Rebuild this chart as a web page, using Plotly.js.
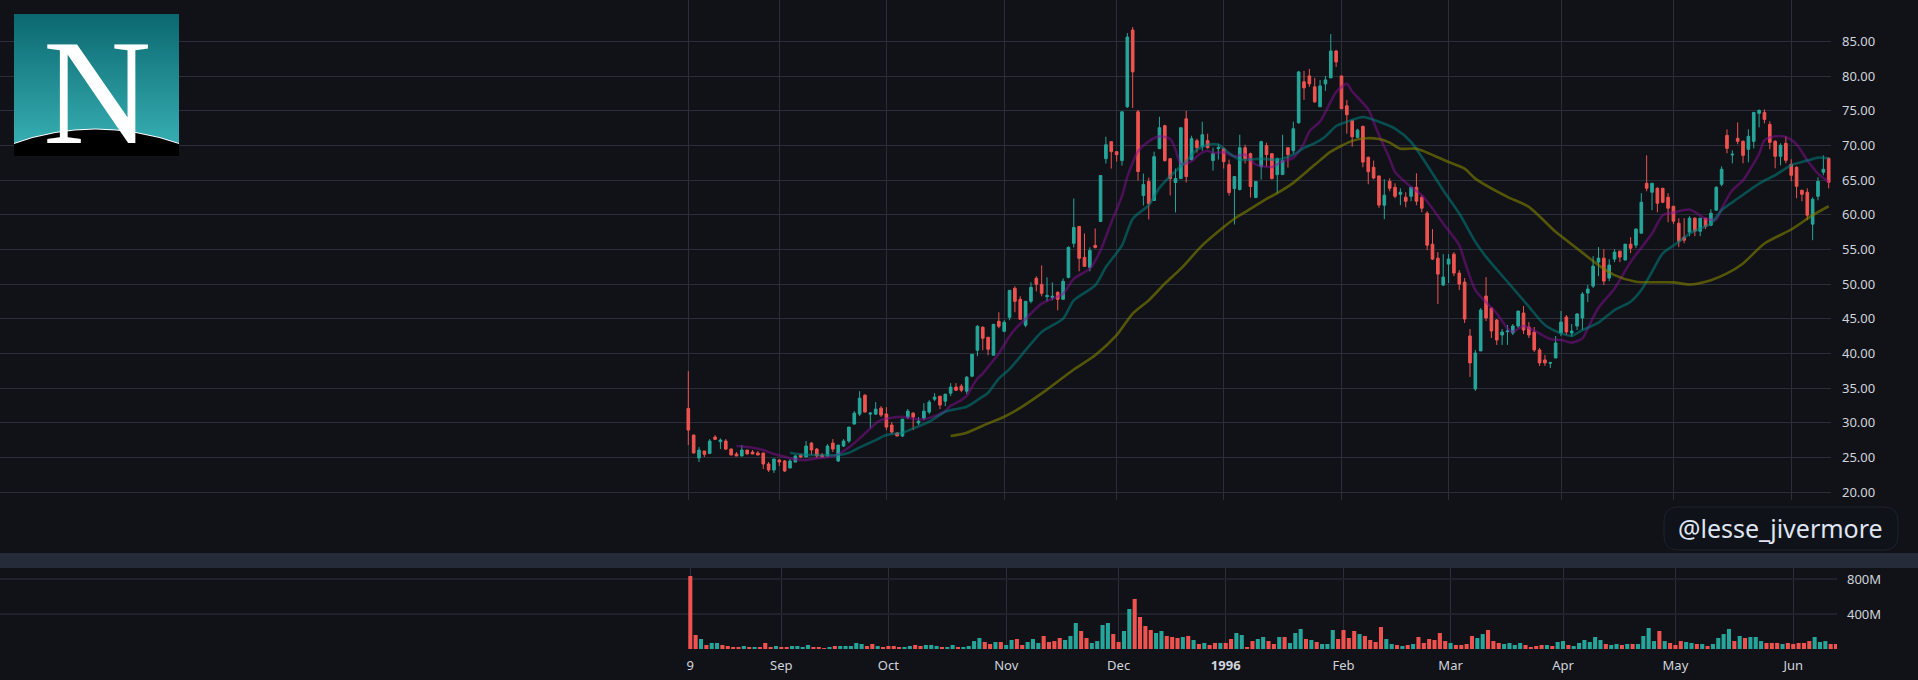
<!DOCTYPE html>
<html>
<head>
<meta charset="utf-8">
<script src="https://cdn.plot.ly/plotly-3.0.1.min.js"></script>
<style>html,body{margin:0;padding:0;background:#101217;overflow:hidden}#chart{width:1918px;height:680px}</style>
</head>
<body>
<div id="chart"></div>
<script>
// Trading sessions by month
const aug95=[9,10,11,14,15,16,17,18,21,22,23,24,25,28,29,30,31];
const sep95=[1,5,6,7,8,11,12,13,14,15,18,19,20,21,22,25,26,27,28,29];
const oct95=[2,3,4,5,6,9,10,11,12,13,16,17,18,19,20,23,24,25,26,27,30,31];
const nov95=[1,2,3,6,7,8,9,10,13,14,15,16,17,20,21,22,24,27,28,29,30];
const dec95=[1,4,5,6,7,8,11,12,13,14,15,18,19,20,21,22,26,27,28,29];
const jan96=[2,3,4,5,8,9,10,11,12,15,16,17,18,19,22,23,24,25,26,29,30,31];
const feb96=[1,2,5,6,7,8,9,12,13,14,15,16,20,21,22,23,26,27,28,29];
const mar96=[1,4,5,6,7,8,11,12,13,14,15,18,19,20,21,22,25,26,27,28,29];
const apr96=[1,2,3,4,8,9,10,11,12,15,16,17,18,19,22,23,24,25,26,29,30];
const may96=[1,2,3,6,7,8,9,10,13,14,15,16,17,20,21,22,23,24,28,29,30,31];
const jun96=[3,4,5,6,7,10,11,12,13];
const pad=n=>String(n).padStart(2,'0');
const days=(ym,list)=>list.map(d=>ym+'-'+pad(d));
const sessions=[].concat(days('1995-08',aug95),days('1995-09',sep95),days('1995-10',oct95),days('1995-11',nov95),days('1995-12',dec95),days('1996-01',jan96),days('1996-02',feb96),days('1996-03',mar96),days('1996-04',apr96),days('1996-05',may96),days('1996-06',jun96));

const openPrices=[32.09,28.25,24.94,25.95,25.61,27.96,27.29,27.39,26.23,25.52,
25.23,26.09,25.8,25.66,25.66,24.08,23.21,24.65,24.51,23.5,
24.36,25.37,25.08,27.1,26.23,25.37,25.23,27.1,24.51,26.67,
27.39,29.83,31.27,34.0,31.27,31.27,32.13,31.27,29.69,28.54,
28.11,30.84,31.41,29.98,30.7,31.56,33.43,33.86,33.14,34.29,
35.16,35.3,34.58,36.74,40.48,43.79,42.35,39.76,44.65,43.21,
45.23,49.4,47.82,44.08,47.53,50.84,49.98,48.2,48.1,48.82,
47.82,50.98,55.88,58.32,53.86,52.42,55.59,59.04,68.09,70.54,
69.1,67.81,75.57,86.63,74.85,62.78,64.79,62.06,69.53,72.84,
68.09,64.65,65.22,73.84,67.95,70.68,69.82,70.68,67.81,69.53,
69.53,67.23,63.78,63.64,69.67,68.81,62.49,66.94,69.96,68.81,
65.79,65.79,69.67,69.24,73.27,79.16,80.02,78.44,75.57,78.87,
79.73,83.61,80.02,75.71,73.55,71.16,72.75,68.29,66.85,65.6,
61.38,64.83,63.97,62.96,62.53,62.67,63.97,62.53,60.23,55.77,
53.75,49.87,52.89,54.33,51.6,50.3,42.53,34.9,40.37,48.29,
46.56,44.83,42.67,43.15,42.96,43.97,45.84,43.82,43.11,40.52,
39.08,38.6,39.36,42.96,45.26,42.96,43.97,45.12,48.72,49.72,
53.18,53.75,50.88,53.61,54.76,53.47,55.77,55.62,57.35,64.54,
63.25,63.82,63.82,62.53,61.23,58.79,56.77,57.49,59.51,57.64,
59.51,58.5,60.66,64.4,71.45,68.62,71.02,70.59,69.44,70.59,
74.62,74.76,73.03,70.59,68.43,70.3,67.28,66.85,63.54,63.25,
58.65,62.67,66.13,68.14];
const highPrices=[37.46,28.3,26.52,25.95,27.67,28.25,27.77,27.67,26.33,25.8,
26.81,26.09,26.09,25.95,25.66,24.36,24.8,24.8,24.65,24.8,
25.37,25.52,27.39,27.24,26.38,25.66,26.95,27.67,26.81,27.67,
29.4,31.7,34.58,34.15,31.56,33,32.42,32.28,30.12,28.68,
30.55,32,31.56,30.84,32.85,33.29,34.29,33.86,34.15,35.73,
35.73,35.59,36.74,39.9,44.08,43.93,42.35,44.22,45.95,44.8,
49.11,49.69,48.25,47.53,50.26,51.13,52.71,50.98,50.26,48.97,
50.84,55.44,62.35,58.32,57.31,55.3,58.03,65.65,71.25,70.54,
69.1,74.85,86.2,87.06,75.13,65.94,65.36,69.1,74.13,72.98,
68.09,66.66,72.55,74.99,71.4,70.97,73.41,71.69,69.67,70.25,
69.67,67.95,65.51,71.54,70.1,68.96,64.79,70.68,70.39,68.81,
68.24,71.54,69.67,73.41,80.74,80.74,81.03,79.73,79.44,80.02,
86.05,83.76,80.02,76.57,73.7,72.4,72.84,68.38,67.81,65.65,
65.12,65.26,64.54,63.82,63.25,63.97,65.98,62.82,60.52,57.93,
54.62,54.33,54.33,54.62,52.03,50.88,43.54,40.52,46.56,51.02,
46.56,44.98,43.54,44.11,44.26,46.13,46.85,44.54,43.82,40.8,
39.8,38.8,42.53,46.13,45.55,44.26,45.84,48.86,49.87,54.04,
55.34,55.05,53.61,55.05,54.76,55.77,56.77,58.07,63.11,68.57,
64.54,63.97,63.82,63.11,61.23,59.51,59.51,59.8,59.65,59.51,
59.51,60.8,64.11,66.99,72.31,69.29,73.32,70.73,72.31,74.76,
75.19,75.19,73.47,70.73,70.3,71.31,68,66.99,63.54,63.82,
62.53,65.41,68.57,68.29];
const lowPrices=[26.81,25.6,24.36,25.08,25.52,27.53,26.23,26.09,25.37,25.23,
25.2,25.52,25.52,25.37,23.36,22.93,22.78,23.79,22.93,23.5,
24.36,24.94,25.08,25.37,24.94,25.08,25.08,25.8,24.36,26.52,
27.1,29.83,30.98,31.56,29.26,31.13,30.84,28.97,28.39,28.11,
27.96,30.55,28.97,29.69,30.41,31.27,33.14,31.99,32.42,33.86,
34.58,34.44,34.15,36.6,39.62,40.48,39.76,39.76,43.65,43.07,
44.8,45.95,44.94,43.79,47.24,48.97,48.25,47.53,47.67,46.24,
47.82,50.84,55.3,51.85,52.57,51.85,55.15,59,67.38,66.66,
67.66,67.09,75.4,75.4,64.93,61.34,59.33,62.06,69.53,67.66,
62.78,60.34,65.22,64.65,67.81,68.96,69.24,69.53,66.37,67.95,
66.66,62.78,58.6,63.5,67.38,62.49,62.4,65.08,66.94,65.08,
63.07,65.79,66.8,68.81,73.12,76.57,78.44,76.14,75.57,77.86,
79.73,81.31,75.28,71.69,69.82,71.1,66.85,64.4,65.12,61,
59.36,63.39,62.39,61.38,61.09,61.95,61.38,60.37,54.9,53.47,
47.13,49.72,50.16,51.16,49.15,44.4,36.63,34.62,40.37,44.69,
42.24,41.24,41.24,41.24,42.67,43.68,42.82,42.24,40.23,38.21,
38.21,37.93,39.36,42.53,42.67,42.39,43.39,43.39,47.42,49.44,
51.16,49.87,50.44,53.18,53.18,53.47,54.47,55.19,57.35,63.39,
60.66,60.37,61.67,58.93,58.65,55.34,55.91,56.92,56.92,56.92,
57.93,58.36,60.66,64.11,68.86,67.42,70.16,67.42,67.57,69.58,
72.6,73.18,69.44,66.7,67.13,67.42,64.83,62.39,61.95,59.22,
56.34,62.1,65.7,63.82];
const closePrices=[28.97,25.66,26.09,25.47,27.39,27.63,27.53,26.23,25.37,25.23,
26.09,25.52,25.52,25.37,24.08,23.21,24.8,24.36,23.07,24.51,
25.23,25.08,26.67,26.09,25.23,25.08,26.67,26.23,26.81,27.39,
29.4,31.41,33.57,31.56,31.41,31.99,31.13,29.4,28.68,28.11,
30.55,31.7,30.84,30.26,31.7,33,33.72,32.57,34.15,35.16,
34.72,34.72,36.6,39.9,43.93,42.21,40.62,44.22,43.93,44.51,
49.11,47.53,44.94,47.53,49.54,49.98,48.68,48.35,48.25,47.82,
50.41,55.3,58.18,53.72,52.57,54.87,55.3,65.65,70.1,69.1,
68.67,74.85,85.62,80.6,66.23,64.36,61.63,68.38,72.55,67.81,
65.22,65.22,72.55,65.51,70.97,69.67,71.54,69.67,68.81,69.67,
67.66,63.21,65.51,69.67,68.09,64.07,64.79,70.54,68.67,65.22,
68.09,67.81,68.67,72.4,80.59,78.3,78.87,76.28,78.58,79.44,
83.61,82.03,75.28,74.42,71.25,72.2,67.6,66.2,65.3,61.4,
62.82,63.82,62.67,63.25,61.95,63.97,61.95,60.95,55.62,53.61,
51.45,51.02,53.61,51.6,50.01,44.98,38.65,40.08,46.27,45.12,
43.25,41.95,43.11,43.25,43.97,46.13,43.39,42.67,40.52,38.65,
38.65,38.7,41.52,44.54,43.11,43.25,45.7,48.57,49.29,52.6,
53.75,50.44,52.75,54.62,53.9,55.77,55.19,57.93,61.81,63.82,
64.54,61.67,61.81,60.95,59.08,56.2,56.34,59.51,57.64,59.51,
58.36,60.23,63.97,66.56,69.58,68.72,70.59,68.57,71.31,74.76,
75.05,73.75,70.44,68.43,70.01,67.85,65.7,64.11,62.96,59.94,
62.24,64.83,66.56,64.69];

// Volume in millions, one per session
const volumeM=[834,160,114,46,69,69,46,34,23,23,34,23,23,23,69,23,34,23,23,34,34,23,46,23,23,11,23,34,34,34,34,69,57,34,57,34,23,34,34,23,23,34,46,34,46,46,34,23,23,46,23,23,34,91,126,80,57,80,80,46,103,114,46,80,114,69,149,80,91,126,103,149,
297,206,126,69,91,274,297,171,80,206,457,572,366,263,217,183,206,149,137,126,137,149,103,57,69,46,69,69,69,114,183,160,23,91,114,137,91,57,137,137,69,183,229,114,103,80,57,57,217,114,217,126,206,171,149,103,80,251,114,57,46,34,46,57,137,69,114,103,183,91,69,46,
46,57,149,126,171,217,91,69,57,69,46,69,46,23,34,46,46,34,80,91,46,34,69,103,80,137,103,57,46,57,46,57,57,57,149,240,91,206,91,69,46,91,80,69,57,57,34,57,126,171,229,91,149,126,137,137,91,69,69,69,57,69,57,69,69,91,137,80,91,57,57];
const volumeDirection=('RRGRGGRRRR'+'GRGRRRGRRG'+'GGGRRRGRGG'+'GGGRRGRRRR'+'GGRRGGGRGG'+'RGGGGRRGRG'+'GRRGGGRRRR'+'GGGRRGGGGR'+'RGGRRRRGGR'+'RRGRGRGRRG'+'RRGGRRGGRR'+'GRGGGRGRGG'+'GRRRRGRRRR'+'GGRGRGRRRR'+'RRGRRRRGGR'+'RRGGGGRRRR'+'GRGGRGGGGG'+'GRGGRGRGGG'+'GRGRRRGGRG'+'RGGGGRGRGG'+'GRRRGRRRRR'+'GGGRR').split('');

// Moving averages at the listed session numbers
const ma10At=[9,12,14,16,18,20,22,24,26,28,29,30,32,34,35,36,38,40,42,44,46,48,49,51,52,53,54,55,56,57,58,60,61,63,66,70,72,75,77,79,81,82,83,84,86,88,90,91,92,94,95,96,97,98,100,102,104,106,109,111,113,115,116,118,120,121,123,124,127,128,129,131,132,135,137,139,141,144,145,147,149,151,153,154,156,158,161,163,165,167,168,170,173,176,180,182,184,187,190,192,193,195,197,200,201,203,205,207,209,211,213];
const ma10Values=[26.67,26.43,26.09,25.52,25.13,24.75,24.65,24.89,25.04,25.47,25.95,26.47,27.77,29.2,29.93,30.4,30.74,30.89,30.6,30.5,30.98,31.7,32.47,33.29,33.9,35.2,36.4,37.12,38.08,39.04,40,42.5,43.5,45,47.19,48.63,50.79,52.23,54.87,58.9,62.68,65.5,67.5,69.15,70.58,71.3,70.92,69.39,67.33,67.71,68.43,69,69.24,68.9,69,68.43,68.67,67.23,66.9,67.71,68.2,70.34,72.02,73.46,76.33,77.7,78.87,77.77,75.2,73.4,71.5,68.09,66.17,64,62.82,60.9,58.74,55.62,53.3,49.15,47.4,45.79,43.63,43.15,43.97,43.3,42.1,41.95,41.57,42.19,43.63,46.6,49.39,53.2,57.3,59.94,60.32,60.76,59.46,59.32,60.9,63.54,64.98,68.8,70.73,71.31,71.21,70.16,67.86,65.94,64.74];
const ma20At=[19,21,24,28,30,32,35,37,40,42,45,48,50,52,54,56,58,60,63,66,70,72,76,78,81,83,86,88,90,93,95,97,99,101,103,107,110,113,115,117,119,121,123,126,129,132,135,137,139,141,144,147,149,153,157,160,163,165,167,170,173,176,178,180,182,185,187,191,193,196,200,203,206,209,211,213];
const ma20Values=[25.71,25.47,25.37,25.37,25.71,26.47,27.53,28.25,28.59,29.21,30.17,31.61,31.99,32.33,33.29,34.34,36.4,37.75,40.48,43.12,45.04,47.67,49.83,52.47,55.59,59.4,61.4,63.88,65.56,67.71,69.39,70.1,70.1,68.91,67.95,68.09,67.95,68.67,69.63,70.34,71.3,72.8,73.4,74.1,73.4,72.41,70.49,68.33,65.94,63.54,60.18,56.1,53.94,50.35,46.75,44.11,42.91,42.58,43.39,44.45,46.27,47.47,49.15,51.79,54.43,56.1,57.3,58.74,60.66,62.34,64.5,65.7,67.14,67.81,68.24,68.14];
const ma50At=[49,52,56,59,62,67,72,76,80,83,86,89,92,96,100,102,104,108,110,113,117,120,124,126,129,131,133,136,142,145,147,153,157,162,166,170,173,177,184,187,191,194,197,201,206,210,213];
const ma50Values=[28.11,28.59,29.93,30.89,32.18,34.8,37.7,39.76,42.64,45.76,47.67,50.07,52.23,55.59,58.23,59.43,60.38,62.3,63.12,64.6,67.2,69.1,70.65,71,70.92,70.4,69.53,69.53,67.61,66.66,65.22,62.58,61.14,57.54,55.14,52.75,51.31,50.35,50.26,49.96,50.58,51.55,52.99,55.86,57.88,59.94,61.23];

const priceTicks=[20,25,30,35,40,45,50,55,60,65,70,75,80,85];
const priceTickLabels=priceTicks.map(v=>v.toFixed(2));
const volumeTicks=[400,800];
const volumeTickLabels=['400M','800M'];
const timeTicks=['1995-08-09','1995-09-01','1995-10-02','1995-11-01','1995-12-01','1996-01-02','1996-02-01','1996-03-01','1996-04-01','1996-05-01','1996-06-03'];
const timeTickLabels=['9','Sep','Oct','Nov','Dec','<b>1996</b>','Feb','Mar','Apr','May','Jun'];

const UP='#26a69a',DOWN='#ef5350',BG='#101217',GRID='#2a2e39',TXT='#d1d4dc';
const W=1918,H=680;
const fx=p=>p/W, fy=p=>1-p/H;
const FONT='"Noto Sans", "Open Sans", sans-serif';

const priceDates=sessions.slice(0,openPrices.length);
const maTrace=(at,vals,color)=>({type:'scatter',mode:'lines',x:at.map(i=>sessions[i]),y:vals,xaxis:'x',yaxis:'y',
  line:{color:color,width:2.6,shape:'spline',smoothing:0.7},hoverinfo:'skip',showlegend:false});

const traces=[
 {type:'candlestick',x:priceDates,open:openPrices,high:highPrices,low:lowPrices,close:closePrices,xaxis:'x',yaxis:'y',
  increasing:{line:{color:UP,width:1},fillcolor:UP},decreasing:{line:{color:DOWN,width:1},fillcolor:DOWN},whiskerwidth:0,showlegend:false,hoverinfo:'skip'},
 maTrace(ma10At,ma10Values,'rgba(136,14,150,0.5)'),
 maTrace(ma20At,ma20Values,'rgba(0,128,128,0.55)'),
 maTrace(ma50At,ma50Values,'rgba(128,128,0,0.62)'),
 {type:'bar',x:sessions,y:volumeM,xaxis:'x2',yaxis:'y2',marker:{color:volumeDirection.map(d=>d==='G'?UP:DOWN),line:{width:0}},showlegend:false,hoverinfo:'skip'}
];

// Price pane: first candle at pixel 688.3, spacing 5.354, right end at 1831
const xRange1=[-688.3/5.354,(1831-688.3)/5.354];
// Volume pane is shifted two pixels and runs to 1837
const xRange2=[-690.3/5.354,(1837-690.3)/5.354];

const rr=(x0,y0,x1,y1,r)=>{const X=fx,Y=fy;return `M${X(x0+r)},${Y(y0)} L${X(x1-r)},${Y(y0)} Q${X(x1)},${Y(y0)} ${X(x1)},${Y(y0+r)} L${X(x1)},${Y(y1-r)} Q${X(x1)},${Y(y1)} ${X(x1-r)},${Y(y1)} L${X(x0+r)},${Y(y1)} Q${X(x0)},${Y(y1)} ${X(x0)},${Y(y1-r)} L${X(x0)},${Y(y0+r)} Q${X(x0)},${Y(y0)} ${X(x0+r)},${Y(y0)} Z`;};

const logoSvg=`<svg xmlns="http://www.w3.org/2000/svg" width="165" height="142" viewBox="0 0 165 142"><defs><linearGradient id="g" x1="0" y1="0" x2="0" y2="1"><stop offset="0" stop-color="#0b6870"/><stop offset="1" stop-color="#3ab4b8"/></linearGradient></defs><rect width="165" height="142" fill="url(#g)"/><path d="M0,129 Q80,100 165,129 L165,142 L0,142 Z" fill="#fff"/><path d="M0,130 Q80,101 165,130 L165,142 L0,142 Z" fill="#000"/></svg>`;

const layout={
 width:W,height:H,autosize:false,margin:{l:0,r:0,t:0,b:0,pad:0},paper_bgcolor:BG,plot_bgcolor:BG,showlegend:false,hovermode:false,dragmode:false,
 bargap:0.24,boxgap:0.3,
 font:{family:FONT,size:13,color:TXT},
 xaxis:{type:'category',domain:[0,fx(1831)],anchor:'y',range:xRange1,tickmode:'array',tickvals:timeTicks,ticktext:timeTickLabels,showticklabels:false,ticks:'',showgrid:true,gridcolor:GRID,gridwidth:1,zeroline:false,showline:false,rangeslider:{visible:false},fixedrange:true},
 yaxis:{domain:[fy(500),1],anchor:'x',side:'right',range:[18.89,90.96],tickmode:'array',tickvals:priceTicks,ticktext:priceTickLabels,ticks:'',ticklen:0,ticklabelstandoff:10,showgrid:true,gridcolor:GRID,gridwidth:1,zeroline:false,showline:false,tickfont:{family:FONT,size:13,color:TXT},fixedrange:true},
 xaxis2:{type:'category',domain:[0,fx(1837)],anchor:'y2',range:xRange2,tickmode:'array',tickvals:timeTicks,ticktext:timeTickLabels,showticklabels:true,tickangle:0,ticks:'',ticklabelstandoff:7,showgrid:true,gridcolor:GRID,gridwidth:1,zeroline:false,showline:false,tickfont:{family:FONT,size:13,color:TXT},fixedrange:true},
 yaxis2:{domain:[fy(649),fy(568)],anchor:'x2',side:'right',range:[0,925.7],tickmode:'array',tickvals:volumeTicks,ticktext:volumeTickLabels,ticks:'',ticklen:0,ticklabelstandoff:9,showgrid:true,gridcolor:'#1f222c',gridwidth:2,zeroline:false,showline:false,tickfont:{family:FONT,size:13,color:TXT},fixedrange:true},
 shapes:[
  {type:'rect',xref:'paper',yref:'paper',x0:0,x1:1,y0:fy(568),y1:fy(553),fillcolor:'#262b3a',line:{width:0},layer:'above'},
  {type:'path',xref:'paper',yref:'paper',path:rr(1664,507,1898,550,14),fillcolor:'#0f1218',line:{color:'#1e222d',width:1},layer:'above'}
 ],
 images:[{source:'data:image/svg+xml;base64,'+btoa(logoSvg),xref:'paper',yref:'paper',x:fx(14),y:fy(14),sizex:165/W,sizey:142/H,sizing:'stretch',xanchor:'left',yanchor:'top',layer:'above'}],
 annotations:[
  {xref:'paper',yref:'paper',x:fx(1780),y:fy(528),text:'@lesse_jivermore',showarrow:false,xanchor:'center',yanchor:'middle',font:{family:FONT,size:25,color:'#dfe5f2'}},
  {xref:'paper',yref:'paper',x:fx(97),y:fy(92),text:'N',showarrow:false,xanchor:'center',yanchor:'middle',font:{family:'"Liberation Serif", serif',size:150,color:'#ffffff'}}
 ]
};
Plotly.newPlot('chart',traces,layout,{displayModeBar:false,staticPlot:true,responsive:false});
</script>
</body>
</html>
